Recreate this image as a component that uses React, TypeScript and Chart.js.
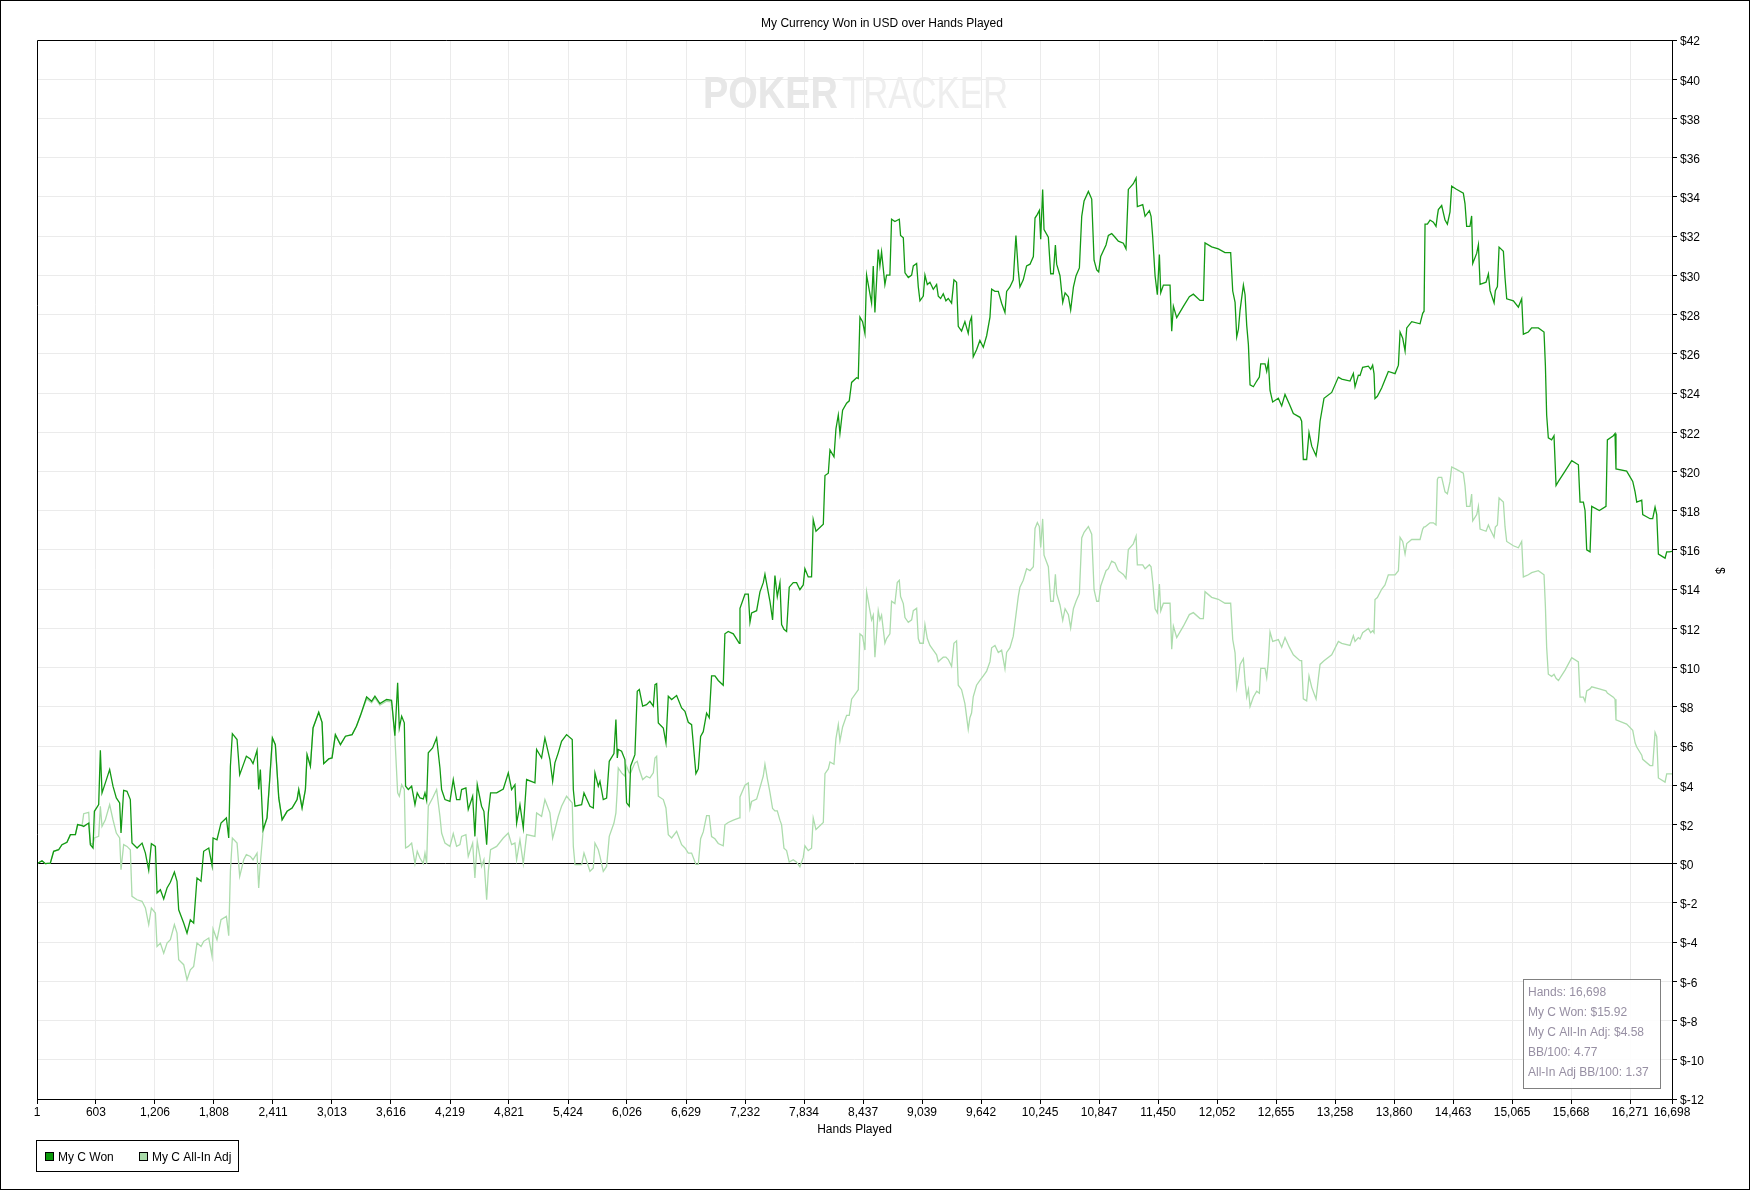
import { useEffect, useRef } from 'react';
import { Chart, registerables } from 'chart.js';

Chart.register(...registerables);

const HANDS = [
  1, 52, 86, 137, 171, 222, 256, 307, 342, 393, 416, 461, 478, 529, 546, 573, 587, 631, 648, 665, 699, 743, 777, 811, 845, 859, 886, 920, 954, 971, 1023, 1074, 1108, 1142, 1169, 1210, 1227, 1261, 1295, 1329, 1363, 1404, 1431, 1448, 1499, 1533, 1567, 1601, 1635, 1676, 1703, 1755, 1789, 1799, 1839, 1880, 1935, 1959, 1976, 1996, 2044, 2071, 2112, 2139, 2180, 2207, 2248, 2265, 2282, 2310, 2350, 2377, 2405, 2435, 2470, 2504, 2555, 2606, 2657, 2674, 2708, 2742, 2759, 2793, 2820, 2878, 2912, 2929, 2980, 3014, 3048, 3100, 3151, 3219, 3263, 3304,
  3367, 3418, 3452, 3503, 3571, 3622, 3656, 3684, 3701, 3725, 3752, 3765, 3793, 3827, 3861, 3884, 3912, 3946, 3963, 3980, 3997, 4041, 4082, 4116, 4133, 4167, 4218, 4252, 4286, 4320, 4337, 4381, 4405, 4450, 4473, 4497, 4541, 4565, 4593, 4610, 4633, 4695, 4763, 4814, 4848, 4882, 4899, 4933, 4967, 5001, 5086, 5103, 5154, 5188, 5239, 5267, 5290, 5324, 5358, 5409, 5467, 5478, 5495, 5563, 5587, 5648, 5682, 5699, 5733, 5750, 5784, 5818, 5845, 5893, 5913, 5927, 5937, 5971, 6005, 6022, 6049, 6063, 6107, 6131, 6152, 6186, 6226, 6260, 6295, 6312, 6329, 6346, 6397, 6424, 6448, 6482, 6533, 6584, 6618, 6652, 6686,
  6730, 6754, 6778, 6805, 6839, 6866, 6890, 6924, 6958, 7009, 7026, 7060, 7112, 7173, 7180, 7231, 7265, 7282, 7299, 7350, 7384, 7418, 7435, 7459, 7486, 7513, 7537, 7561, 7588, 7605, 7629, 7656, 7683, 7724, 7758, 7792, 7826, 7843, 7877, 7911, 7928, 7956, 8031, 8048, 8082, 8099, 8140, 8160, 8184, 8201, 8228, 8269, 8296, 8320, 8371, 8388, 8405, 8432, 8456, 8473, 8507, 8524, 8541, 8558, 8592, 8609, 8626, 8660, 8677, 8711, 8728, 8762, 8786, 8807, 8820, 8848, 8865, 8899, 8933, 8950, 8984, 9001, 9018, 9052, 9069, 9093, 9120, 9154, 9188, 9205, 9229, 9256, 9283, 9307, 9341, 9365, 9392, 9409, 9443, 9477, 9511, 9528, 9545, 9562, 9596, 9630, 9665, 9699, 9733, 9750, 9784, 9818, 9852, 9886, 9903, 9937, 9971, 9998, 10022, 10039, 10073, 10107,
  10142, 10176, 10193, 10217, 10237, 10251, 10271, 10285, 10329, 10353, 10380, 10401, 10414, 10448, 10476, 10500, 10534, 10557, 10585, 10612, 10646, 10670, 10694, 10738, 10772, 10796, 10823, 10843, 10864, 10918, 10942, 10976, 11010, 11044, 11095, 11122, 11146, 11197, 11225, 11238, 11293, 11317, 11361, 11378, 11395, 11419, 11442, 11463, 11477, 11504, 11572, 11589, 11606, 11640, 11708, 11769, 11810, 11878, 11912, 11929, 11997, 12065, 12133, 12191, 12212, 12236, 12253, 12270, 12287, 12321, 12338, 12355, 12372, 12389, 12423, 12457, 12484, 12498, 12542, 12559, 12576, 12593, 12620, 12678, 12712, 12746, 12790, 12831, 12899, 12916, 12933, 12967, 12991, 13019, 13063, 13087, 13104, 13144, 13223, 13291, 13325, 13410, 13444, 13461, 13495,
  13512, 13539, 13597, 13621, 13641, 13655, 13665, 13689, 13733, 13767, 13801, 13870, 13904, 13921, 13948, 13972, 13989, 14040, 14125, 14152, 14166, 14176, 14200, 14227, 14261, 14288, 14302, 14312, 14346, 14380, 14404, 14431, 14448, 14492, 14567, 14584, 14601, 14635, 14652, 14663, 14704, 14721, 14738, 14799, 14823, 14840, 14881, 14894, 14915, 14932, 14976, 14993, 15010, 15078, 15129, 15163, 15180, 15231, 15265, 15333, 15391, 15405, 15418, 15435, 15469, 15493, 15514, 15538, 15606, 15674, 15742, 15759, 15793, 15810, 15827, 15861, 15878, 15956, 16024, 16038, 16099, 16116, 16126, 16235, 16297, 16321, 16338, 16389, 16399, 16474, 16501, 16525, 16542, 16559, 16627, 16644, 16671, 16698,
];

const WON = [
  0, 0.15, 0, 0.03, 0.63, 0.71, 0.97, 1.09, 1.48, 1.48, 1.99, 1.94, 1.9, 2.07, 0.97, 0.8, 2.67, 3.01, 5.78, 3.61, 4.12, 4.8, 3.95, 3.35, 3.1, 1.56, 3.74, 3.69, 3.27, 1.05, 0.8, 1.05, 0.54, -0.34, 1.02, 0.88, -1.5, -1.33, -1.8, -1.24, -0.95, -0.43, -0.9, -2.35, -3.03, -3.54, -2.86, -3.03, -0.73, -0.9, 0.63, 0.8, -0.1, 1.31, 1.22, 2.07, 2.33, 1.31, 4.97, 6.63, 6.33, 4.54, 5.1, 5.48, 5.34, 5.1, 5.78, 3.78, 4.8, 1.73, 2.33, 4.25, 6.41, 6.07, 3.35, 2.24, 2.67, 2.84, 3.27, 3.78, 2.84, 3.78, 5.56, 4.97, 6.92, 7.72, 7.21, 5.1, 5.34, 5.39, 6.58, 6.07, 6.5, 6.58, 7.01, 7.55,
  8.5, 8.28, 8.54, 8.16, 8.37, 8.33, 6.53, 9.22, 6.92, 7.52, 7.18, 3.95, 3.78, 3.95, 3.01, 3.61, 3.35, 3.3, 3.61, 3.23, 5.65, 5.9, 6.41, 4.88, 3.78, 3.27, 3.18, 4.29, 3.27, 3.27, 3.78, 3.86, 2.76, 3.44, 1.39, 4.03, 2.93, 2.67, 0.97, 2.59, 3.61, 3.61, 3.81, 4.63, 3.78, 4.03, 2.07, 3.01, 1.82, 4.29, 4.12, 5.82, 5.39, 6.41, 5.31, 4.2, 5.14, 5.65, 6.24, 6.58, 6.33, 3.78, 2.93, 3.01, 3.61, 2.93, 2.84, 4.63, 3.95, 4.2, 3.27, 3.35, 5.22, 5.61, 7.35, 5.39, 5.82, 5.73, 5.31, 3.1, 2.93, 4.97, 5.56, 8.79, 8.88, 8.03, 8.11, 8.28, 8.03, 9.13, 9.18, 7.18, 6.92, 6.16, 8.54, 8.37, 8.57, 7.94, 7.77, 7.21, 7.09,
  4.59, 4.83, 6.49, 6.73, 7.68, 7.44, 9.58, 9.58, 9.34, 9.1, 11.72, 11.84, 11.72, 11.24, 13.02, 13.74, 13.74, 12.31, 12.79, 12.9, 13.86, 14.33, 14.76, 14.1, 13.38, 12.43, 14.69, 13.62, 14.33, 12.19, 11.95, 11.84, 14.1, 14.33, 14.33, 13.97, 14.21, 15.04, 14.62, 14.62, 17.54, 16.95, 17.31, 19.79, 19.91, 21.1, 20.74, 22.17, 22.88, 21.93, 23.12, 23.48, 23.6, 24.54, 24.78, 24.74, 27.87, 27.64, 27.04, 30.01, 29.06, 28.58, 30.48, 28.11, 31.31, 30.48, 31.19, 29.53, 30.01, 30.01, 32.86, 32.74, 32.81, 32.86, 32.03, 31.91, 30.13, 29.89, 30.01, 30.48, 30.6, 29.41, 28.7, 28.94, 30.01, 29.53, 29.65, 29.29, 29.53, 28.94, 28.82, 29.06, 28.7, 28.82, 28.58, 29.77, 29.65, 27.4, 27.16, 27.64, 27.04, 27.64, 27.87, 25.85, 26.21, 26.68, 26.33, 26.92, 27.87, 29.29, 29.18, 29.18, 28.58, 28.11, 29.18, 29.41, 29.77, 32.03, 30.24, 29.41, 29.77, 30.48,
  30.57, 30.96, 32.92, 33.11, 33.31, 31.84, 34.38, 32.33, 31.94, 30.08, 30.08, 31.55, 30.57, 29.98, 28.62, 29.11, 28.91, 28.23, 29.4, 29.98, 30.38, 33.01, 33.79, 34.28, 33.89, 30.77, 30.28, 30.18, 30.96, 31.55, 32.04, 32.13, 31.94, 31.74, 31.64, 31.35, 34.38, 34.67, 34.96, 33.5, 33.6, 33.01, 33.3, 33.01, 31.94, 29.98, 29.01, 31.06, 29.11, 29.5, 29.5, 27.15, 28.42, 27.84, 28.42, 28.91, 29.04, 28.72, 28.72, 31.65, 31.45, 31.35, 31.16, 31.16, 29.2, 28.62, 26.86, 27.25, 28.23, 29.5, 29.01, 27.45, 26.47, 24.42, 24.32, 24.61, 24.81, 25.49, 25.49, 25.1, 25.59, 24.13, 23.54, 23.73, 23.34, 23.93, 23.44, 22.95, 22.76, 22.56, 20.61, 20.61, 21.98, 21.29, 20.8, 21.59, 22.56, 23.73, 24.03, 24.81, 24.71, 24.61, 25.0, 24.32, 24.91,
  24.89, 25.31, 25.37, 25.21, 25.42, 24.99, 23.72, 23.83, 24.25, 24.68, 25.1, 24.99, 25.42, 27.11, 26.79, 26.15, 27.32, 27.64, 27.53, 28.06, 28.17, 32.61, 32.61, 32.82, 32.71, 32.5, 33.03, 33.35, 33.56, 32.82, 32.61, 33.24, 34.55, 34.4, 34.19, 33.66, 32.5, 32.5, 33.03, 30.6, 31.13, 31.56, 29.54, 29.65, 30.07, 29.22, 28.59, 29.22, 29.43, 31.44, 31.23, 29.86, 28.8, 28.7, 28.38, 28.8, 27.0, 27.11, 27.32, 27.32, 27.11, 25.42, 22.88, 21.71, 21.61, 21.82, 19.28, 19.49, 20.02, 20.55, 20.34, 18.44, 18.44, 18.01, 16.0, 15.9, 18.22, 18.01, 18.22, 21.61, 21.82, 21.93, 20.13, 20.02, 19.49, 18.96, 18.44, 18.54, 17.8, 17.59, 17.59, 18.18, 17.8, 15.79, 15.58, 15.9, 15.9, 15.92,
];

const ADJ = [
  0, 0.15, 0, 0.03, 0.63, 0.71, 0.97, 1.09, 1.48, 1.48, 1.99, 1.94, 2.55, 2.62, 1.05, 0.97, 1.31, 1.39, 2.93, 1.9, 2.24, 3.01, 2.24, 1.56, 1.31, -0.31, 0.97, 0.88, 0.71, -1.67, -1.84, -1.92, -2.26, -3.11, -2.26, -2.52, -4.22, -4.05, -4.56, -4.05, -3.88, -3.11, -3.54, -4.9, -5.15, -5.92, -5.41, -5.24, -4.05, -4.22, -3.96, -3.79, -4.73, -3.33, -3.88, -2.86, -2.69, -3.67, -0.39, 1.31, 1.05, -0.65, 0.2, 0.46, 0.37, 0.2, 0.54, -1.24, 0.03, 1.65, 2.33, 4.25, 6.41, 6.07, 3.35, 2.24, 2.67, 2.84, 3.27, 3.78, 2.84, 3.78, 5.56, 4.97, 6.92, 7.72, 7.21, 5.1, 5.34, 5.39, 6.58, 6.07, 6.5, 6.58, 7.01, 7.55,
  8.4, 8.2, 8.45, 8.08, 8.28, 8.25, 6.45, 3.61, 3.44, 4.03, 3.78, 0.8, 0.88, 1.05, 0, 0.63, 0.29, 0, 0.54, 0, 2.93, 3.35, 3.78, 2.41, 1.56, 1.05, 0.88, 1.53, 0.88, 0.97, 1.39, 1.48, 0.37, 1.05, -0.73, 1.14, -0.14, 0.2, -1.84, -0.39, 0.71, 0.88, 1.31, 1.56, 0.97, 1.05, 0.2, 1.22, 0, 1.48, 1.39, 2.59, 2.41, 3.27, 2.59, 1.31, 1.73, 2.41, 2.93, 3.44, 3.1, 0.88, -0.05, -0.05, 0.54, -0.39, -0.22, 1.05, 0.71, 0.37, -0.39, -0.14, 1.39, 2.07, 2.59, 3.78, 4.88, 4.63, 4.46, 4.97, 4.63, 4.63, 5.14, 5.22, 4.8, 4.29, 4.46, 4.37, 4.63, 5.39, 5.48, 3.44, 3.27, 2.84, 1.48, 1.31, 1.65, 0.97, 0.8, 0.54, 0.54,
  -0.04, -0.04, 1.27, 1.62, 2.45, 2.45, 1.38, 1.27, 1.03, 0.91, 1.98, 2.1, 2.22, 2.33, 3.4, 4.0, 4.12, 2.81, 3.17, 3.29, 3.88, 4.47, 5.07, 4.35, 3.64, 2.81, 2.69, 2.69, 2.22, 1.98, 0.79, 0.67, 0.08, 0.2, 0.08, -0.16, 0.32, 0.91, 0.67, 0.79, 2.33, 1.74, 2.1, 4.59, 4.83, 5.19, 5.07, 6.38, 7.09, 6.26, 6.97, 7.56, 7.56, 8.39, 8.75, 8.87, 11.72, 11.6, 10.89, 13.86, 12.9, 12.43, 12.67, 10.53, 12.9, 12.43, 12.67, 11.24, 11.48, 11.72, 13.38, 13.26, 14.33, 14.45, 13.62, 13.26, 12.55, 12.31, 12.43, 12.9, 13.02, 11.48, 11.24, 11.24, 12.19, 11.48, 11.13, 10.89, 10.65, 10.3, 10.41, 10.53, 10.53, 10.41, 10.06, 11.24, 11.36, 9.1, 8.87, 8.16, 6.85, 7.44, 7.68, 8.51, 9.1, 9.34, 9.58, 9.82, 10.3, 11.01, 11.13, 10.77, 10.89, 9.94, 10.77, 11.01, 11.6, 12.67, 13.62, 14.1, 14.45, 15.04,
  14.94, 15.14, 17.09, 17.39, 17.19, 16.12, 17.58, 15.73, 15.14, 13.38, 13.38, 14.75, 13.77, 13.19, 12.41, 13.0, 12.7, 12.02, 13.0, 13.38, 13.77, 16.61, 16.9, 17.19, 16.8, 13.97, 13.38, 13.38, 14.16, 14.94, 15.04, 15.43, 15.33, 14.94, 14.75, 14.55, 16.02, 16.31, 16.7, 15.24, 15.24, 15.04, 15.24, 15.14, 14.36, 12.99, 12.79, 14.26, 12.89, 13.28, 13.28, 10.94, 12.11, 11.53, 12.11, 12.7, 12.8, 12.5, 12.5, 13.87, 13.58, 13.48, 13.28, 13.28, 11.43, 10.75, 8.99, 9.48, 10.16, 10.45, 9.28, 8.5, 8.89, 8.01, 8.5, 8.79, 8.69, 9.96, 9.96, 9.48, 10.35, 11.82, 11.33, 11.43, 11.04, 11.53, 11.04, 10.65, 10.35, 10.35, 8.4, 8.3, 9.57, 8.99, 8.4, 9.47, 10.16, 10.35, 10.65, 11.33, 11.23, 11.13, 11.63, 11.33, 11.53,
  11.46, 11.78, 11.99, 11.78, 11.88, 11.78, 13.47, 13.57, 13.99, 14.21, 14.73, 14.73, 14.94, 16.64, 16.43, 15.79, 16.32, 16.53, 16.53, 17.06, 17.17, 17.17, 17.27, 17.38, 17.38, 17.27, 19.59, 19.7, 19.7, 18.96, 18.86, 19.49, 20.23, 20.12, 19.91, 19.28, 18.22, 18.22, 18.85, 17.48, 17.8, 18.22, 17.06, 16.95, 17.27, 17.06, 16.64, 17.17, 17.27, 18.65, 18.44, 17.17, 16.43, 16.21, 16.11, 16.43, 14.62, 14.73, 14.84, 14.94, 14.73, 13.14, 11.03, 9.66, 9.55, 9.66, 9.45, 9.34, 9.87, 10.5, 10.29, 8.49, 8.49, 8.28, 8.81, 8.91, 9.02, 8.91, 8.81, 8.7, 8.49, 8.39, 7.33, 7.12, 6.8, 6.16, 5.95, 5.53, 5.32, 5.0, 5.0, 6.69, 6.48, 4.37, 4.16, 4.58, 4.58, 4.58,
];

const X_TICKS = [1, 603, 1206, 1808, 2411, 3013, 3616, 4219, 4821, 5424, 6026, 6629, 7232, 7834, 8437, 9039, 9642, 10245, 10847, 11450, 12052, 12655, 13258, 13860, 14463, 15065, 15668, 16271, 16698];
const Y_MIN = -12;
const Y_MAX = 42;
const Y_STEP = 2;

const TITLE = 'My Currency Won in USD over Hands Played';
const X_TITLE = 'Hands Played';
const Y_TITLE = '$';
const SERIES_NAMES = ['My C Won', 'My C All-In Adj'];
const STATS = ['Hands: 16,698', 'My C Won: $15.92', 'My C All-In Adj: $4.58', 'BB/100: 4.77', 'All-In Adj BB/100: 1.37'];

const W = 1750;
const H = 1190;
const FONT = '"Liberation Sans", Arial, sans-serif';
const DARK = '#139a13';
const LIGHT = '#acdcac';
const LEGEND_DARK = '#0b990b';
const LEGEND_LIGHT = '#a9dba9';

const decorPlugin = {
  id: 'decor',
  beforeDatasetsDraw(chart: any) {
    const ctx = chart.ctx as CanvasRenderingContext2D;
    ctx.save();
    ctx.textBaseline = 'alphabetic';
    ctx.textAlign = 'left';
    ctx.font = `bold 44px ${FONT}`;
    const w1 = ctx.measureText('POKER').width;
    ctx.save();
    ctx.translate(703, 108);
    ctx.scale(135 / w1, 1);
    ctx.fillStyle = '#e7e7e7';
    ctx.fillText('POKER', 0, 0);
    ctx.restore();
    ctx.font = `44px ${FONT}`;
    const w2 = ctx.measureText('TRACKER').width;
    ctx.save();
    ctx.translate(842, 108);
    ctx.scale(166 / w2, 1);
    ctx.fillStyle = '#eeeeee';
    ctx.fillText('TRACKER', 0, 0);
    ctx.restore();
    ctx.restore();
  },
  afterDraw(chart: any) {
    const ctx = chart.ctx as CanvasRenderingContext2D;
    const a = chart.chartArea;
    ctx.save();
    ctx.strokeStyle = '#000';
    ctx.lineWidth = 1;
    ctx.strokeRect(0.5, 0.5, W - 1, H - 1);
    ctx.beginPath();
    ctx.moveTo(Math.round(a.left) + 0.5, Math.round(a.bottom) + 0.5);
    ctx.lineTo(Math.round(a.left) + 0.5, Math.round(a.top) + 0.5);
    ctx.lineTo(Math.round(a.right) + 0.5, Math.round(a.top) + 0.5);
    ctx.stroke();

    ctx.fillStyle = '#000';
    ctx.font = `12px ${FONT}`;
    ctx.textBaseline = 'middle';
    ctx.textAlign = 'center';
    ctx.fillText(TITLE, 882, 24);
    ctx.fillText(X_TITLE, (a.left + a.right) / 2, 1130);

    ctx.save();
    ctx.translate(1719, (a.top + a.bottom) / 2 + 1);
    ctx.rotate(Math.PI / 2);
    ctx.fillText(Y_TITLE, 0, 0);
    ctx.restore();

    ctx.strokeStyle = '#000';
    ctx.strokeRect(36.5, 1140.5, 202, 31);
    ctx.textAlign = 'left';
    const items = [
      { x: 45, fill: LEGEND_DARK, text: SERIES_NAMES[0], tx: 58 },
      { x: 139, fill: LEGEND_LIGHT, text: SERIES_NAMES[1], tx: 152 },
    ];
    for (const it of items) {
      ctx.fillStyle = it.fill;
      ctx.fillRect(it.x, 1152, 9, 9);
      ctx.strokeStyle = '#000';
      ctx.strokeRect(it.x + 0.5, 1152.5, 8, 8);
      ctx.fillStyle = '#000';
      ctx.fillText(it.text, it.tx, 1158);
    }

    ctx.fillStyle = 'rgba(255,255,255,0.9)';
    ctx.fillRect(1523, 979, 137, 109);
    ctx.strokeStyle = '#808080';
    ctx.strokeRect(1523.5, 979.5, 137, 109);
    ctx.fillStyle = '#978fa3';
    STATS.forEach((s, i) => {
      ctx.fillText(s, 1528, 993 + i * 19.8);
    });
    ctx.restore();
  },
};

export default function App() {
  const ref = useRef<HTMLCanvasElement | null>(null);

  useEffect(() => {
    document.body.style.margin = '0';
    const canvas = ref.current;
    if (!canvas) return;
    const chart = new Chart(canvas, {
      type: 'line',
      data: {
        datasets: [
          {
            label: SERIES_NAMES[0],
            data: HANDS.map((h, i) => ({ x: h, y: WON[i] })),
            borderColor: DARK,
            backgroundColor: DARK,
            borderWidth: 1.3,
            pointRadius: 0,
            tension: 0,
          },
          {
            label: SERIES_NAMES[1],
            data: HANDS.map((h, i) => ({ x: h, y: ADJ[i] })),
            borderColor: LIGHT,
            backgroundColor: LIGHT,
            borderWidth: 1.3,
            pointRadius: 0,
            tension: 0,
          },
        ],
      },
      options: {
        animation: false,
        responsive: false,
        devicePixelRatio: 1,
        events: [],
        layout: { padding: { left: 37, top: 40, right: 0, bottom: 0 } },
        plugins: {
          legend: { display: false },
          title: { display: false },
          tooltip: { enabled: false },
        },
        scales: {
          x: {
            type: 'linear',
            min: 1,
            max: 16698,
            afterBuildTicks: (scale: any) => {
              scale.ticks = X_TICKS.map((v) => ({ value: v }));
            },
            afterFit: (scale: any) => {
              scale.height = H - 1099;
            },
            ticks: {
              autoSkip: false,
              maxRotation: 0,
              minRotation: 0,
              padding: 1,
              color: '#000',
              font: { family: FONT, size: 12 },
              callback: (v: any) => Number(v).toLocaleString('en-US'),
            },
            grid: {
              color: '#ebebeb',
              tickColor: '#000',
              tickLength: 5,
              lineWidth: 1,
            },
            border: { display: true, color: '#000', width: 1 },
          },
          y: {
            type: 'linear',
            position: 'right',
            min: Y_MIN,
            max: Y_MAX,
            afterFit: (scale: any) => {
              scale.width = W - 1672;
            },
            ticks: {
              stepSize: Y_STEP,
              padding: 3,
              labelOffset: 2,
              color: '#000',
              font: { family: FONT, size: 12 },
              callback: (v: any) => '$' + v,
            },
            grid: {
              color: (c: any) => (c.tick && c.tick.value === 0 ? '#000' : '#ebebeb'),
              tickColor: '#000',
              tickLength: 5,
              lineWidth: 1,
            },
            border: { display: true, color: '#000', width: 1 },
          },
        },
      },
      plugins: [decorPlugin],
    } as any);
    return () => chart.destroy();
  }, []);

  return (
    <div style={{ width: W, height: H, position: 'relative', background: '#fff' }}>
      <canvas ref={ref} width={W} height={H} style={{ display: 'block', width: W, height: H }} />
    </div>
  );
}
